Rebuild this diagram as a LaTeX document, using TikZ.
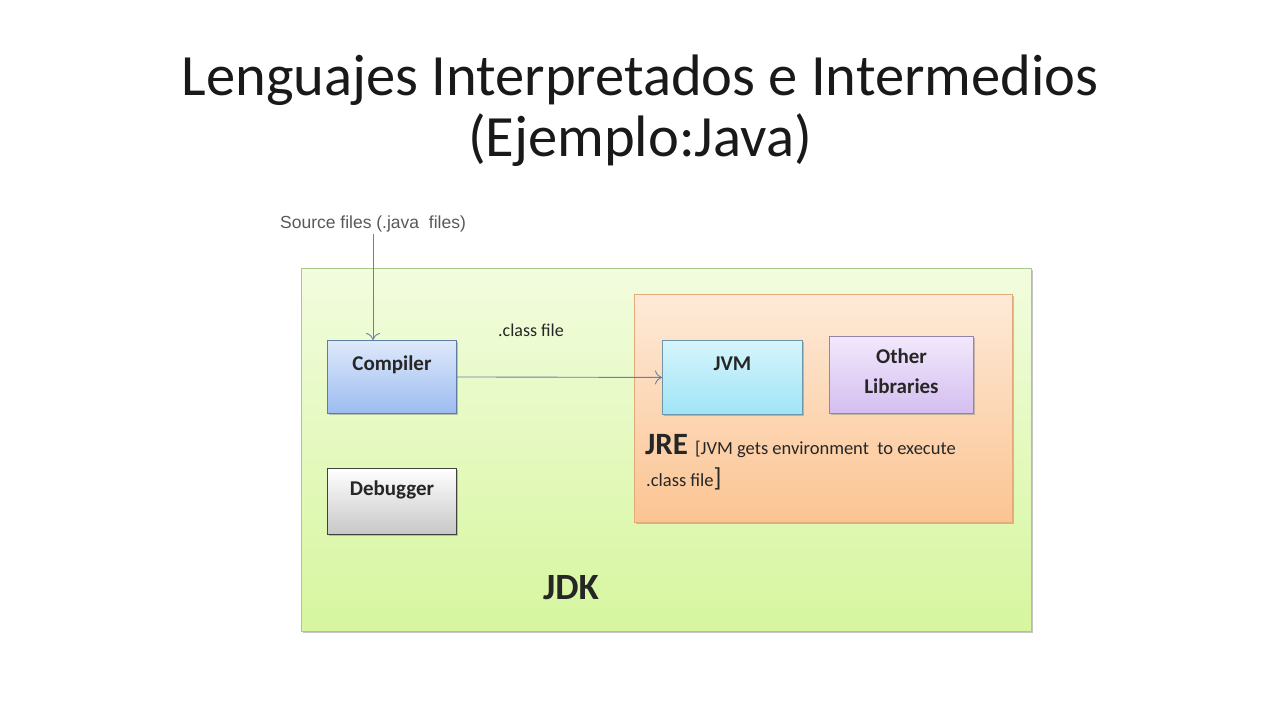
\documentclass[tikz,border=0pt]{standalone}
\usepackage{fontspec}
\setmainfont{Carlito}
\newfontfamily\arialf{Liberation Sans}
\usetikzlibrary{shadows,arrows.meta}
\definecolor{arrowblue}{HTML}{6482A6}
\tikzset{
  box/.style={draw, line width=0.9pt, anchor=north west, inner sep=0pt,
    drop shadow={opacity=0.45, shadow xshift=1.8pt, shadow yshift=-1.8pt}},
  boxlbl/.style={font=\fontsize{21}{30}\selectfont\bfseries, text=black!85, align=center, inner sep=0pt},
  arr/.style={draw=arrowblue, line width=0.9pt, -{To[length=7pt,width=14pt]}},
}
\begin{document}
\begin{tikzpicture}[x=1pt,y=-1pt]
\useasboundingbox[fill=white] (0,0) rectangle (1280,720);

% title
\node[font=\fontsize{58.5}{61}\selectfont, align=center, text=black!90] (title) at (640,111)
  {Lenguajes Interpretados e Intermedios\\(Ejemplo:Java)};

% JDK container
\node[box, draw={rgb,255:red,170;green,200;blue,140}, top color={rgb,255:red,242;green,252;blue,222},
  bottom color={rgb,255:red,214;green,246;blue,158}, minimum width=730, minimum height=363]
  (jdk) at (301,268) {};
\node[font=\fontsize{37}{40}\selectfont\bfseries, text=black!85] (jdklbl) at (571,588) {JDK};

% JRE container
\node[box, draw={rgb,255:red,226;green,170;blue,120}, top color={rgb,255:red,253;green,234;blue,216},
  bottom color={rgb,255:red,251;green,196;blue,146}, minimum width=378, minimum height=228]
  (jre) at (634,294) {};
\node[anchor=west, inner sep=0pt, text=black!85] (jrelbl) at (645,446)
  {\fontsize{31}{33}\selectfont\bfseries JRE \fontsize{18.5}{20}\mdseries\selectfont[JVM gets environment\ \ to execute};
\node[anchor=west, inner sep=0pt, text=black!85, font=\fontsize{18.5}{20}\selectfont] (jrelbl2) at (646,479)
  {.class file\fontsize{26}{28}\selectfont]};

% components
\node[box, draw={rgb,255:red,95;green,125;blue,160}, top color={rgb,255:red,222;green,233;blue,251},
  bottom color={rgb,255:red,156;green,188;blue,240}, minimum width=129, minimum height=73]
  (compiler) at (327,340) {};
\node[boxlbl] (compilerlbl) at ([yshift=-25pt]compiler.north) {Compiler};

\node[box, draw=black!75, top color=white, bottom color=black!22, minimum width=129, minimum height=66]
  (debugger) at (327,468) {};
\node[boxlbl] (debuggerlbl) at ([yshift=-22pt]debugger.north) {Debugger};

\node[box, draw={rgb,255:red,110;green,150;blue,170}, top color={rgb,255:red,214;green,245;blue,252},
  bottom color={rgb,255:red,160;green,228;blue,246}, minimum width=140, minimum height=74]
  (jvm) at (662,340) {};
\node[boxlbl] (jvmlbl) at ([yshift=-24pt]jvm.north) {JVM};

\node[box, draw={rgb,255:red,150;green,130;blue,170}, top color={rgb,255:red,242;green,232;blue,252},
  bottom color={rgb,255:red,212;green,190;blue,240}, minimum width=144, minimum height=77]
  (libs) at (829,336) {};
\node[boxlbl] (libslbl) at ([yshift=-35pt]libs.north) {Other\\Libraries};

% inputs and flow
\node[font=\arialf\fontsize{17.5}{19}\selectfont, text=black!65, inner sep=2pt] (src) at (373,224)
  {Source files (.java\ \ files)};
\node[font=\fontsize{18}{20}\selectfont, text=black!85] (classlbl) at (531,330) {.class file};

\draw[arr] (src.south) -- (src.south |- compiler.north);
\draw[arr] (compiler.east) -- (jvm.west);
\end{tikzpicture}
\end{document}
